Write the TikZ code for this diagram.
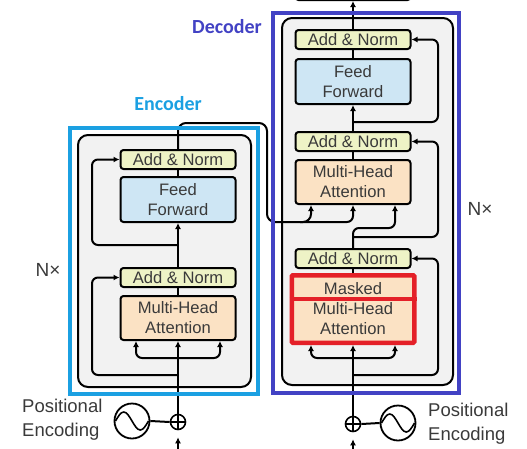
\documentclass[tikz,border=0pt]{standalone}
\usepackage{fontspec}
\setmainfont{Liberation Sans}
\newfontfamily\labelfont{Carlito}
\usetikzlibrary{arrows.meta,calc}
\definecolor{anfill}{HTML}{EEF3C6}
\definecolor{fffill}{HTML}{CEE6F4}
\definecolor{mhafill}{HTML}{FBE2C4}
\definecolor{grayfill}{HTML}{F2F2F2}
\definecolor{enccol}{HTML}{1BA0E2}
\definecolor{deccol}{HTML}{4242C4}
\definecolor{redcol}{HTML}{E42028}
\definecolor{txt}{HTML}{3A3A3A}
\begin{document}
\begin{tikzpicture}[x=1pt,y=-1pt,
  box/.style={draw=black, line width=2pt, rounded corners=3pt, minimum width=115pt, inner sep=0pt, align=center, text=txt, font=\fontsize{16.6}{20}\selectfont},
  an/.style={box, fill=anfill, minimum height=19pt},
  ff/.style={box, fill=fffill, minimum height=45pt},
  mha/.style={box, fill=mhafill, minimum height=44pt},
  conn/.style={draw=black, line width=2pt, rounded corners=6pt},
  arr/.style={conn, -{Latex[length=6pt,width=6pt]}},
  container/.style={draw=black, fill=grayfill, line width=2pt, rounded corners=10pt},
  sine/.style={circle, draw=black, line width=1.8pt, minimum size=35pt, inner sep=0pt},
  plus/.style={circle, draw=black, line width=1.6pt, minimum size=15pt, inner sep=0pt, fill=white},
  lbl/.style={text=txt, inner sep=0pt},
]
\useasboundingbox (0,0) rectangle (527,448);
\clip (0,0) rectangle (527,448);

% containers
\draw[container] (78,135) rectangle (251,387);
\draw[container] (282,18) rectangle (453,385);

% encoder boxes
\node[an]  (encAN2) at (178,159.5) {Add \& Norm};
\node[ff]  (encFF)  at (178,199.5) {Feed\\Forward};
\node[an]  (encAN1) at (178,277.5) {Add \& Norm};
\node[mha] (encMHA) at (178,318)   {Multi-Head\\Attention};

% decoder boxes
\node[box, fill=white, minimum height=20pt] (linear) at (353,-10) {};
\node[an]  (decAN3)  at (353,39.5)  {Add \& Norm};
\node[ff]  (decFF)   at (353,81.5)  {Feed\\Forward};
\node[an]  (decAN2)  at (353,141.5) {Add \& Norm};
\node[mha] (decMHA2) at (353,182)   {Multi-Head\\Attention};
\node[an]  (decAN1)  at (353,258.5) {Add \& Norm};
\node[box, draw=redcol, line width=4.5pt, rounded corners=1pt, fill=mhafill, minimum width=122.5pt, minimum height=67.5pt] (masked) at (353,309) {Masked\\Multi-Head\\Attention};
\coordinate (mdiv) at (353,299);
\draw[redcol, line width=4.5pt] (masked.west |- mdiv) -- (masked.east |- mdiv);

% positional encodings
\node[sine] (encSin) at (132,421) {};
\node[plus] (encPlus) at (178,422) {};
\node[sine] (decSin) at (398,423) {};
\node[plus] (decPlus) at (353,424) {};
\draw[line width=1.6pt] (encSin.center) ++(-16.5,0) sin ++(8.25,-9) cos ++(8.25,9) sin ++(8.25,9) cos ++(8.25,-9);
\draw[line width=1.6pt] (decSin.center) ++(-16.5,0) sin ++(8.25,-9) cos ++(8.25,9) sin ++(8.25,9) cos ++(8.25,-9);
\draw[line width=1.5pt] (encPlus.north) -- (encPlus.south) (encPlus.west) -- (encPlus.east);
\draw[line width=1.5pt] (decPlus.north) -- (decPlus.south) (decPlus.west) -- (decPlus.east);
\draw[conn] (encSin.east) -- (encPlus.west);
\draw[conn] (decPlus.east) -- (decSin.west);

% encoder connectors
\coordinate (encIn) at (178,452);
\coordinate (eF1) at (178,358);
\coordinate (eR1) at (178,375);
\coordinate (eR2) at (178,245);
\draw[arr, shorten >=7pt] (encIn) -- (encPlus.south);
\draw[arr] (encPlus.north) -- (encMHA.south);
\draw[arr] (eF1) -| ([xshift=-42pt]encMHA.south);
\draw[arr] (eF1) -| ([xshift=42pt]encMHA.south);
\draw[arr] (eR1) -| ($(encAN1.west)+(-27.5,0)$) -- (encAN1.west);
\draw[conn] (encMHA.north) -- (encAN1.south);
\draw[arr] (encAN1.north) -- (encFF.south);
\draw[arr] (eR2) -| ($(encAN2.west)+(-27.5,0)$) -- (encAN2.west);
\draw[conn] (encFF.north) -- (encAN2.south);

% encoder output to decoder
\coordinate (eO1) at (178,123);
\coordinate (eO2) at (267,123);
\coordinate (eO3) at (267,222);
\coordinate (eO4) at (300,222);
\draw[arr, rounded corners=8pt] (encAN2.north) -- (eO1) -- (eO2) -- (eO3) -| ([xshift=-42pt]decMHA2.south);
\draw[arr] (eO4) -| (decMHA2.south);

% decoder connectors
\coordinate (decIn) at (353,452);
\coordinate (dF1) at (353,358);
\coordinate (dR1) at (353,375);
\coordinate (dS1) at (353,228);
\coordinate (dS2) at (353,237);
\coordinate (dS3) at (353,122);
\draw[arr, shorten >=7pt] (decIn) -- (decPlus.south);
\draw[arr] (decPlus.north) -- (masked.south);
\draw[arr] (dF1) -| ([xshift=-42pt]masked.south);
\draw[arr] (dF1) -| ([xshift=42pt]masked.south);
\draw[arr] (dR1) -| ($(decAN1.east)+(26.5,0)$) -- (decAN1.east);
\draw[conn] (masked.north) -- (decAN1.south);
\draw[arr] (decAN1.north) -- (dS1) -| ([xshift=42pt]decMHA2.south);
\draw[arr] (dS2) -| ($(decAN2.east)+(26.5,0)$) -- (decAN2.east);
\draw[conn] (decMHA2.north) -- (decAN2.south);
\draw[arr] (decAN2.north) -- (decFF.south);
\draw[arr] (dS3) -| ($(decAN3.east)+(26.5,0)$) -- (decAN3.east);
\draw[conn] (decFF.north) -- (decAN3.south);
\draw[arr] (decAN3.north) -- (linear.south);

% frames
\draw[enccol, line width=3.5pt] (70,128) rectangle (258,394);
\draw[deccol, line width=3.5pt] (273,13) rectangle (459,393);

% labels
\node[text=enccol, font=\labelfont\bfseries\fontsize{20}{20}\selectfont] (encLabel) at (168,104) {Encoder};
\node[text=deccol, font=\labelfont\bfseries\fontsize{20}{20}\selectfont] (decLabel) at (227,27) {Decoder};
\node[lbl, font=\fontsize{19}{19}\selectfont] (encN) at (48,270) {N×};
\node[lbl, font=\fontsize{19}{19}\selectfont] (decN) at (480,209) {N×};
\node[lbl, anchor=west, align=left, font=\fontsize{18.5}{24}\selectfont] (encPE) at (22,420) {Positional\\Encoding};
\node[lbl, anchor=west, align=left, font=\fontsize{18.5}{24}\selectfont] (decPE) at (428,423.5) {Positional\\Encoding};
\end{tikzpicture}
\end{document}
